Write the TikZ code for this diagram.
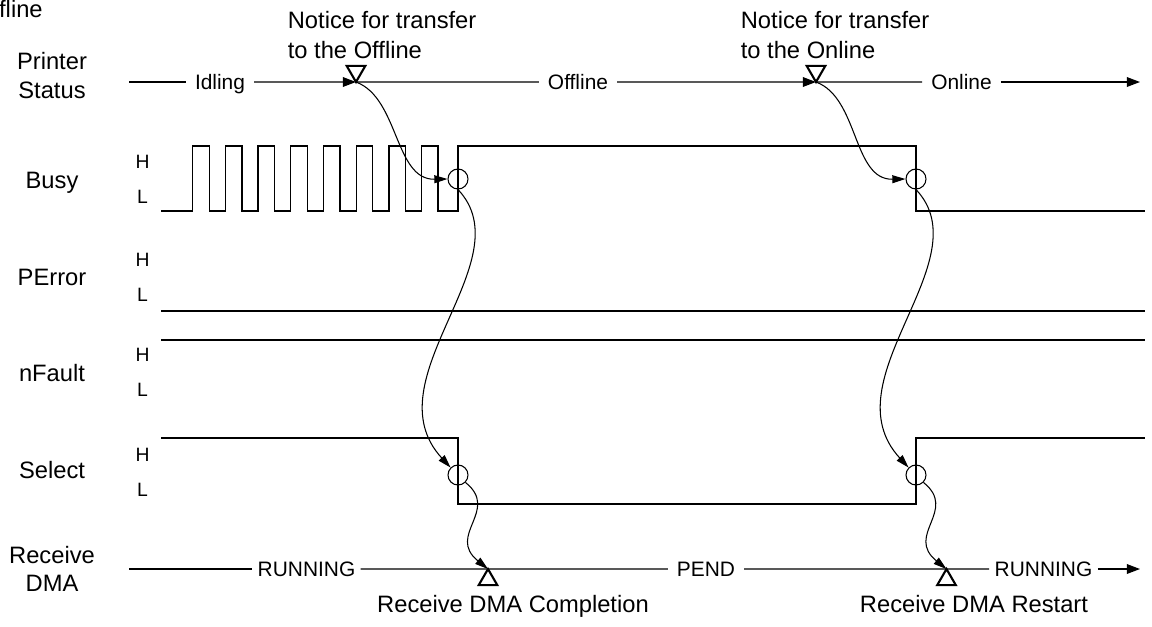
\documentclass[tikz,border=0pt]{standalone}
\usepackage{fontspec}
\setmainfont{Liberation Sans}
\usepackage{tikz}
\usetikzlibrary{arrows.meta, shapes.geometric}

\begin{document}
\begin{tikzpicture}[
    x=0.02cm, y=-0.02cm,
    lbl/.style={font=\fontsize{13.5}{16}\selectfont, align=center, inner sep=0pt},
    note/.style={font=\fontsize{13.5}{17}\selectfont, align=left, inner sep=0pt, anchor=north west},
    lvl/.style={font=\fontsize{11}{12}\selectfont, inner sep=0pt, anchor=base},
    phase/.style={font=\fontsize{11.9}{14}\selectfont, inner xsep=5pt, inner ysep=0pt, text height=8.5pt, text depth=0pt},
    sig/.style={line width=0.75pt},
    ring/.style={circle, draw, minimum size=0.4cm, inner sep=0pt, line width=0.6pt},
    evdown/.style={regular polygon, regular polygon sides=3, shape border rotate=180, draw, minimum size=0.43cm, inner sep=0pt, outer sep=0pt, line width=1.2pt},
    evup/.style={regular polygon, regular polygon sides=3, draw, minimum size=0.43cm, inner sep=0pt, outer sep=0pt, line width=1.2pt},
    sarrow/.style={-{Triangle[length=7.5pt,width=5.5pt]}},
    flow/.style={-{Triangle[length=7.5pt,width=4.5pt]}, line width=0.6pt}
]
\useasboundingbox (0,0) rectangle (1152,626);

\node[lbl, anchor=base east] (topOff) at (43,17) {Offline};
\node[note] (ntOff) at (287.5,11) {Notice for transfer\\to the Offline};
\node[note] (ntOn) at (740.5,11) {Notice for transfer\\to the Online};

\node[lbl] (lbPrn) at (52,75.5) {Printer\\Status};
\node[lbl, anchor=base] (lbBusy) at (52,188.5) {Busy};
\node[lbl, anchor=base] (lbPErr) at (52,285.5) {PError};
\node[lbl, anchor=base] (lbFault) at (52,381) {nFault};
\node[lbl, anchor=base] (lbSel) at (52,478) {Select};
\node[lbl] (lbDma) at (52,569) {Receive\\DMA};

\foreach \y/\n in {168.5/busy, 266.5/perr, 361.5/flt, 461/sel} {
    \node[lvl] (h\n) at (142.5,\y) {H};
    \node[lvl] (l\n) at (142.5,\y+35) {L};
}

\node[evdown] (tOff) at (356,71.25) {};
\node[evdown] (tOn) at (816,71.25) {};
\node[evup] (tDone) at (488,579.75) {};
\node[evup] (tRst) at (946.5,579.75) {};

\node[phase] (idle) at (220,82) {Idling};
\node[phase] (offl) at (578,82) {Offline};
\node[phase] (onl) at (961.5,82) {Online};
\node[phase, inner xsep=2.8pt] (run1) at (306.5,569) {RUNNING};
\node[phase] (pend) at (706,569) {PEND};
\node[phase, inner xsep=3pt] (run2) at (1043.5,569) {RUNNING};
\node[lbl, anchor=base] (txDone) at (513,612) {Receive DMA Completion};
\node[lbl, anchor=base] (txRst) at (974,612) {Receive DMA Restart};

\node[ring] (cB1) at (458,179) {};
\node[ring] (cB2) at (916,179) {};
\node[ring] (cS1) at (458,475) {};
\node[ring] (cS2) at (916,475) {};

\coordinate (psL) at (129,82);
\coordinate (psR) at (1140,82);
\coordinate (dmaL) at (129,569);
\coordinate (dmaR) at (1140,569);

\draw[sig] (psL) -- (idle.west);
\draw[sig, sarrow] (idle.east) -- (tOff.south);
\draw[sig] (tOff.south) -- (offl.west);
\draw[sig, sarrow] (offl.east) -- (tOn.south);
\draw[sig] (tOn.south) -- (onl.west);
\draw[sig, sarrow] (onl.east) -- (psR);

\draw[sig] (dmaL) -- (run1.west);
\draw[sig] (run1.east) -- (tDone.north) -- (pend.west);
\draw[sig] (pend.east) -- (tRst.north) -- (run2.west);
\draw[sig, sarrow] (run2.east) -- (dmaR);

\draw[sig] (161,211) -- (192.7,211)
    \foreach \i in {1,...,8} { -- ++(0,-65) -- ++(16.5,0) -- ++(0,65) -- ++(16.2,0) }
    -- (458,211) |- (916,146) |- (1145,211);
\draw[sig] (161,311) -- (1145,311);
\draw[sig] (161,340) -- (1145,340);
\draw[sig] (161,438) -| (458,504) -| (916,438) -- (1145,438);

\draw[flow] (tOff.south) .. controls +(43,16) and +(-53,1) .. (cB1.west);
\draw[flow] (tOn.south) .. controls +(43,16) and +(-53,1) .. (cB2.west);
\draw[flow] (cB1.south) .. controls +(67,71) and +(-81,-88) .. (cS1.north west);
\draw[flow] (cB2.south) .. controls +(67,71) and +(-81,-88) .. (cS2.north west);
\draw[flow] (cS1.south east) .. controls +(35,28) and +(-42,-34) .. (tDone.north);
\draw[flow] (cS2.south east) .. controls +(35,28) and +(-42,-34) .. (tRst.north);
\end{tikzpicture}
\end{document}
